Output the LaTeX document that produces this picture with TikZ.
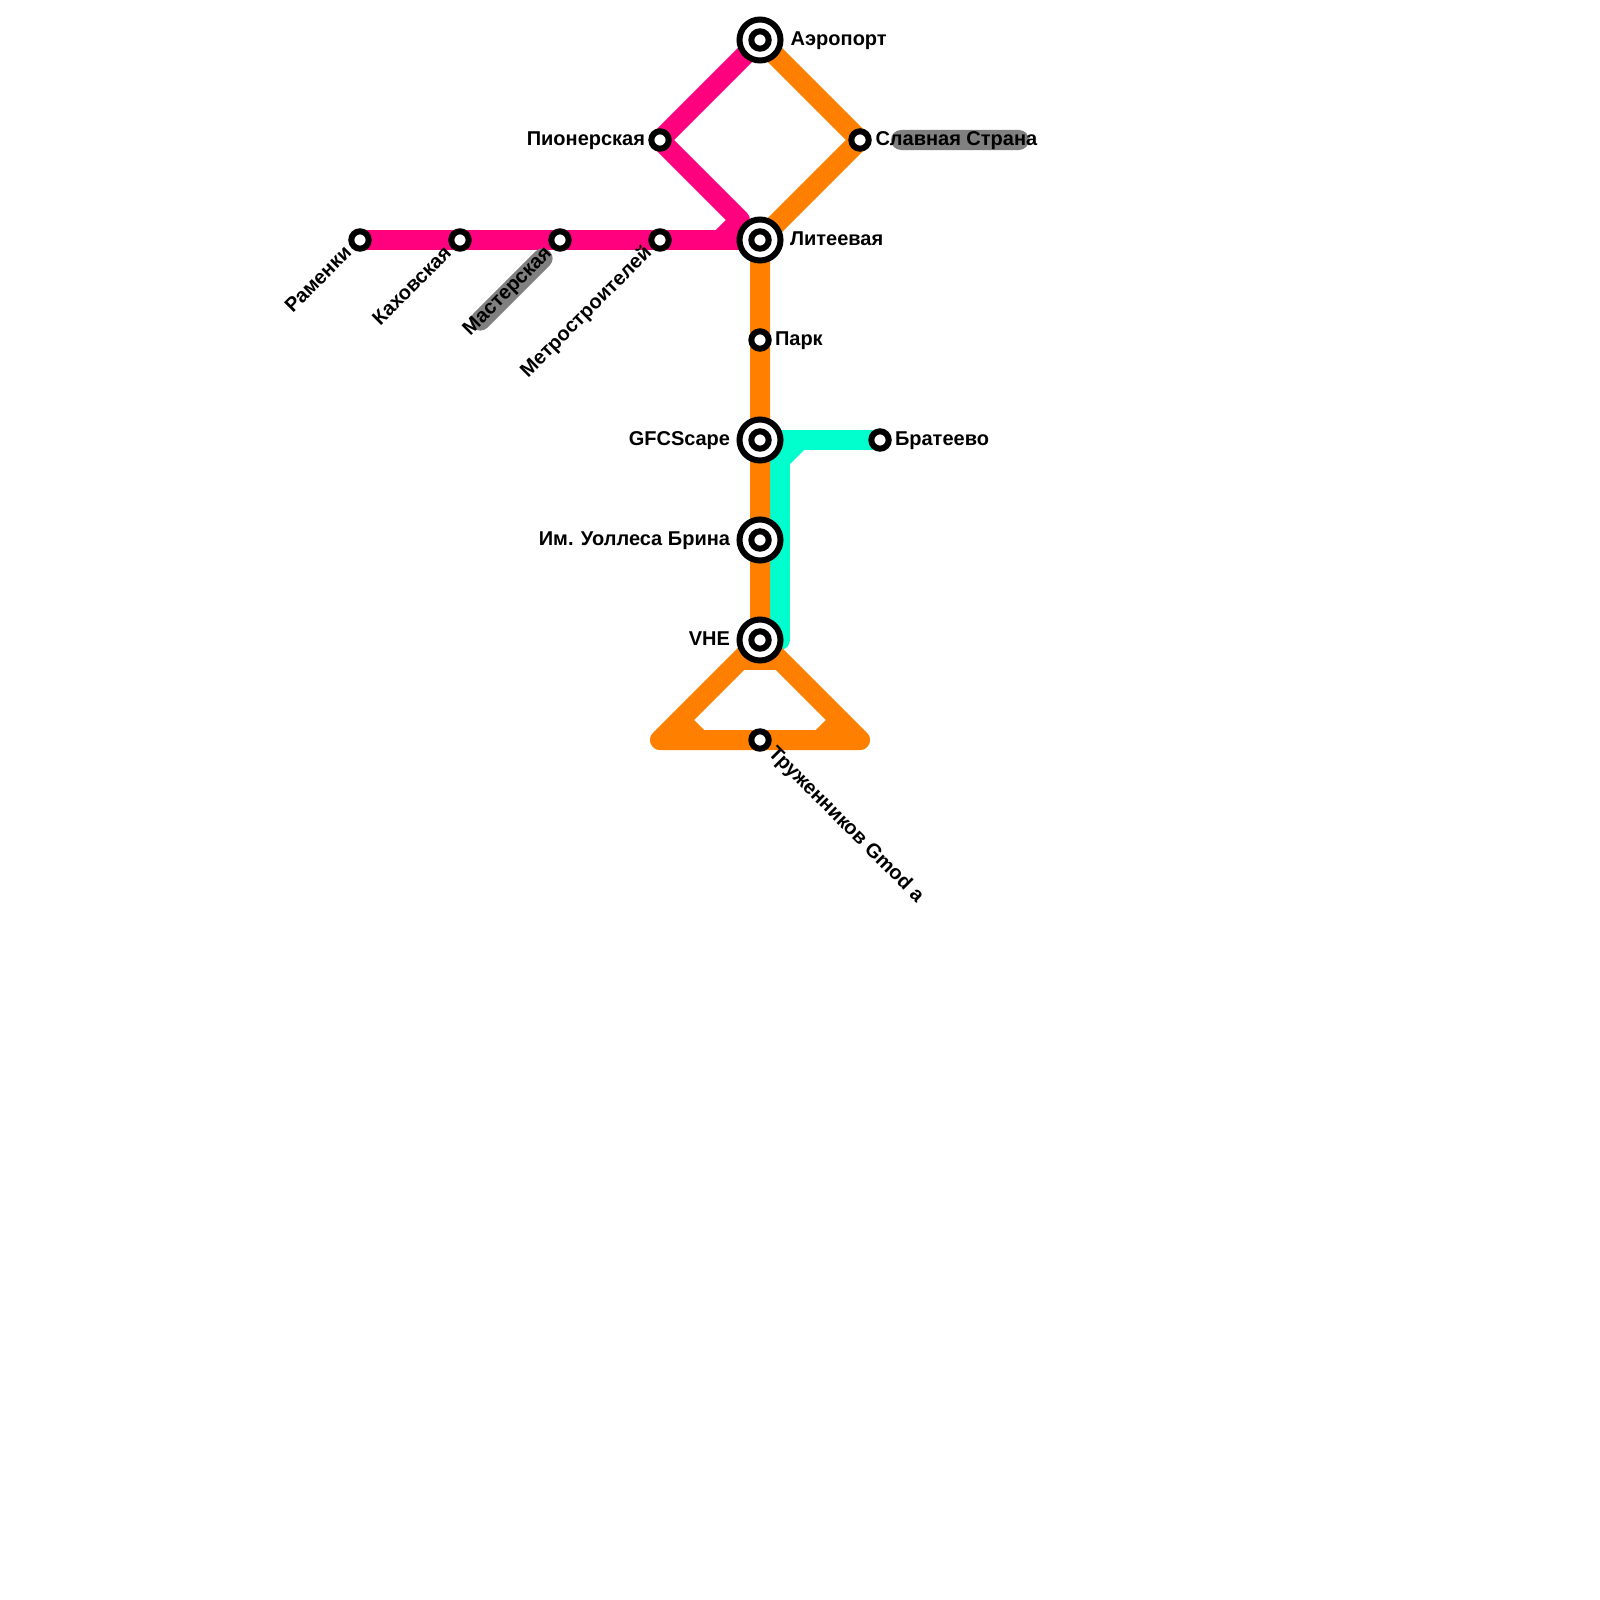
\documentclass[tikz,border=0pt]{standalone}
\usepackage{fontspec}
\setmainfont{Liberation Sans}
\usetikzlibrary{backgrounds}
\definecolor{pinkline}{HTML}{FF007F}
\definecolor{orangeline}{HTML}{FF7F00}
\definecolor{turqline}{HTML}{00FFCC}
\definecolor{bandgray}{HTML}{808080}
\tikzset{
  x=1pt,y=-1pt,
  stn/.style={circle,draw=black,fill=white,line width=6pt,minimum size=17.4pt,inner sep=0pt,outer sep=0pt},
  bigstn/.style={circle,draw=black,fill=white,line width=6pt,minimum size=41pt,inner sep=0pt,outer sep=0pt},
  lbl/.style={font=\fontsize{20}{22}\selectfont\bfseries,inner sep=0pt,outer sep=0pt,text=black},
  lineseg/.style={line width=20pt,line join=round,line cap=butt},
  bandbox/.style={fill=bandgray,rounded corners=10pt,inner sep=0pt,outer sep=0pt,minimum height=20pt}
}
\begin{document}
\begin{tikzpicture}
\useasboundingbox (0,0) rectangle (1600,1600);
% stations
\node[bigstn] (aero) at (760,40) {};
\node[stn] (aeroin) at (760,40) {};
\node[bigstn] (lit) at (760,240) {};
\node[stn] (litin) at (760,240) {};
\node[bigstn] (gfc) at (760,440) {};
\node[stn] (gfcin) at (760,440) {};
\node[bigstn] (brin) at (760,540) {};
\node[stn] (brinin) at (760,540) {};
\node[bigstn] (vhe) at (760,640) {};
\node[stn] (vhein) at (760,640) {};
\node[stn] (pion) at (660,140) {};
\node[stn] (slav) at (860,140) {};
\node[stn] (ram) at (360,240) {};
\node[stn] (kah) at (460,240) {};
\node[stn] (mas) at (560,240) {};
\node[stn] (met) at (660,240) {};
\node[stn] (park) at (760,340) {};
\node[stn] (brat) at (880,440) {};
\node[stn] (truz) at (760,740) {};
% bends
\coordinate (p1) at (720,240);
\coordinate (p2) at (740,220);
\coordinate (t1) at (800,440);
\coordinate (t2) at (780,460);
\coordinate (t3) at (780,440);
\coordinate (t4) at (780,640);
\coordinate (o1) at (660,740);
\coordinate (o2) at (860,740);
\coordinate (o3) at (740,660);
\coordinate (o4) at (780,660);
\coordinate (o5) at (680,720);
\coordinate (o6) at (700,740);
\coordinate (o7) at (840,720);
\coordinate (o8) at (820,740);
% labels
\node[lbl,anchor=base west] (laero) at (790.5,45.5) {Аэропорт};
\node[lbl,anchor=base west] (lslav) at (875.5,145.5) {Славная Страна};
\node[lbl,anchor=base west] (llit) at (790,245.5) {Литеевая};
\node[lbl,anchor=base east] (lpion) at (645,145.5) {Пионерская};
\node[lbl,anchor=base west] (lpark) at (775,345.5) {Парк};
\node[lbl,anchor=base east] (lgfc) at (730,445.5) {GFCScape};
\node[lbl,anchor=base east] (lbrin) at (730,545.5) {Им. Уоллеса Брина};
\node[lbl,anchor=base east] (lvhe) at (730,645.5) {VHE};
\node[lbl,anchor=base west] (lbrat) at (895,445.5) {Братеево};
\node[lbl,anchor=base east,rotate=45] (lram) at (352.5,254) {Раменки};
\node[lbl,anchor=base east,rotate=45] (lkah) at (452.5,254) {Каховская};
\node[lbl,anchor=base east,rotate=45] (lmas) at (552.5,254) {Мастерская};
\node[lbl,anchor=base east,rotate=45] (lmet) at (652.5,254) {Метростроителей};
\node[lbl,anchor=base west,rotate=-45] (ltruz) at (767.5,754) {Труженников Gmod а};
\begin{scope}[on background layer]
  % pink
  \draw[lineseg,pinkline] (ram.center) -- (lit.center);
  \draw[lineseg,pinkline] (aero.center) -- (pion.center) -- (p2) -- (p1);
  % turquoise
  \draw[lineseg,turqline] (gfc.center) -- (brat.center);
  \draw[lineseg,turqline] (t1) -- (t2);
  \draw[lineseg,turqline] (t3) -- (t4) -- (vhe.center);
  % orange
  \draw[lineseg,orangeline] (aero.center) -- (slav.center) -- (lit.center) -- (park.center) -- (gfc.center) -- (brin.center) -- (vhe.center);
  \draw[lineseg,orangeline] (vhe.center) -- (o1) -- (o2) -- cycle;
  \draw[lineseg,orangeline] (o3) -- (o4);
  \draw[lineseg,orangeline] (o5) -- (o6);
  \draw[lineseg,orangeline] (o7) -- (o8);
  % grey label bands
  \node[bandbox,minimum width=138pt] (bslav) at (960,140) {};
  \node[bandbox,minimum width=108pt,rotate=45] (bmas) at (511.5,289.5) {};
\end{scope}
\end{tikzpicture}
\end{document}
